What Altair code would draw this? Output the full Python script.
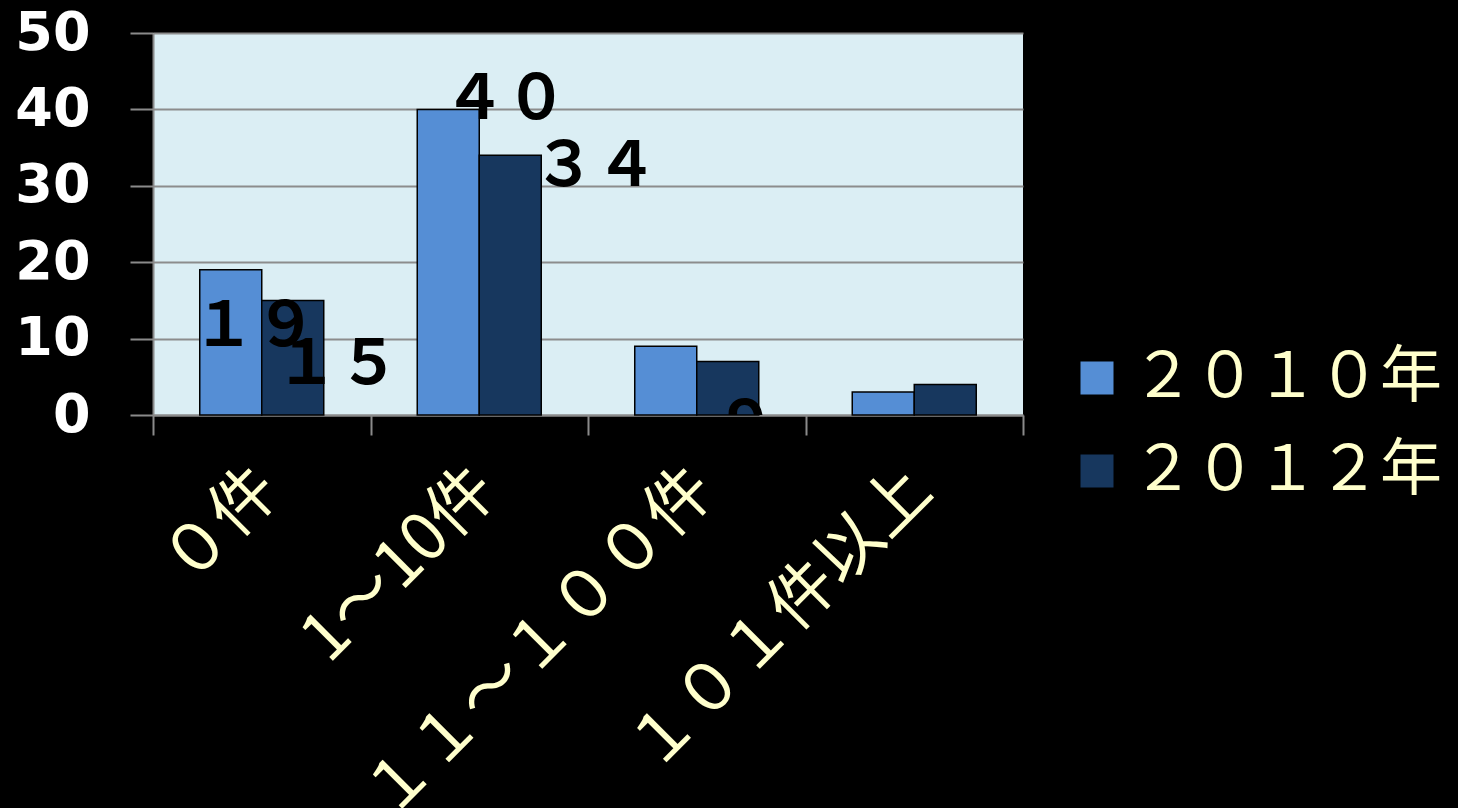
import altair as alt
import pandas as pd

categories = ["０件", "1～10件", "１１～１００件", "１０１件以上"]
series = ["２０１０年", "２０１２年"]
values_2010 = [19, 40, 9, 3]
values_2012 = [15, 34, 7, 4]
y_ticks = [0, 10, 20, 30, 40, 50]

FW = str.maketrans("0123456789", "０１２３４５６７８９")

rows = []
for c, v in zip(categories, values_2010):
    rows.append({"category": c, "series": series[0], "value": v, "label": str(v).translate(FW)})
for c, v in zip(categories, values_2012):
    rows.append({"category": c, "series": series[1], "value": v, "label": str(v).translate(FW)})
df = pd.DataFrame(rows)

x_enc = alt.X(
    "category:N", sort=categories,
    scale=alt.Scale(paddingInner=0, paddingOuter=0),
    axis=alt.Axis(
        title=None, labelAngle=-45, labelAlign="right", labelBaseline="middle",
        labelFontSize=66, labelFont="Noto Sans CJK JP", labelColor="#FFFFCC",
        labelPadding=44, labelOffset=6, labelLimit=800, tickBand="extent",
        tickColor="#8A8A8A", tickSize=20, tickWidth=2,
        domainColor="#8A8A8A", domainWidth=2, grid=False,
    ),
)
xo_enc = alt.XOffset(
    "series:N", sort=series,
    scale=alt.Scale(paddingInner=0, paddingOuter=0.754),
)
y_enc = alt.Y(
    "value:Q",
    scale=alt.Scale(domain=[0, 50], nice=False),
    axis=alt.Axis(
        title=None, values=y_ticks, labelFontSize=54, labelFont="DejaVu Sans",
        labelFontWeight="bold",
        labelColor="white", labelPadding=40, tickSize=23, tickColor="#8A8A8A",
        tickWidth=2, domainColor="#8A8A8A", domainWidth=2, grid=True,
        gridColor="#8C8C8C", gridWidth=2,
    ),
)
color_enc = alt.Color(
    "series:N", sort=series,
    scale=alt.Scale(domain=series, range=["#558ED5", "#17375E"]),
    legend=alt.Legend(
        title=None, orient="none", legendX=913, legendY=314,
        symbolType="square", symbolSize=1089, symbolStrokeWidth=0,
        labelFontSize=62, labelFont="Noto Sans CJK JP", labelColor="#FFFFCC",
        labelOffset=4, rowPadding=31, labelLimit=600,
    ),
)

bars = alt.Chart(df).mark_bar(stroke="black", strokeWidth=1.5).encode(
    x=x_enc, xOffset=xo_enc, y=y_enc, color=color_enc
)

# per-label placement (dx, dy) as in the original
placements = [
    (categories[0], series[0], 24, 57),
    (categories[0], series[1], 45, 65),
    (categories[1], series[0], 57, -9),
    (categories[1], series[1], 85, 12),
    (categories[2], series[0], 80, 80),
]

layers = [bars]
for cat, ser, dx, dy in placements:
    t = alt.Chart(df).transform_filter(
        (alt.datum.category == cat) & (alt.datum.series == ser)
    ).mark_text(
        dx=dx, dy=dy, fontSize=62, font="Noto Sans CJK JP", fontWeight="bold",
        color="black", align="center", baseline="middle", clip=True,
    ).encode(x=x_enc, xOffset=xo_enc, y=y_enc, text="label:N")
    layers.append(t)

chart = alt.layer(*layers).properties(
    width=870, height=382,
    autosize=alt.AutoSizeParams(type="none"),
    padding={"left": 153, "top": 33, "right": 435, "bottom": 393},
).configure(background="black").configure_view(fill="#DBEEF4", stroke=None)

chart.save("out.html", embed_options={"renderer": "svg", "actions": False})
